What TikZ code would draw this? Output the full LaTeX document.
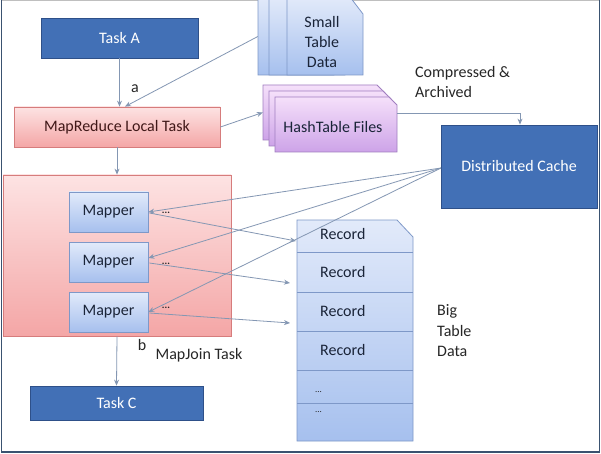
\documentclass[tikz,border=0pt]{standalone}
\usepackage{fontspec}
\setmainfont{Carlito}
\usetikzlibrary{arrows.meta}
\definecolor{taskfill}{HTML}{4270B6}
\definecolor{taskedge}{HTML}{2E5089}
\definecolor{pinktop}{HTML}{FDE3E3}
\definecolor{pinkbot}{HTML}{F4A6A6}
\definecolor{pinkedge}{HTML}{D67C7C}
\definecolor{bluetop}{HTML}{E2EAFA}
\definecolor{bluebot}{HTML}{A6C0EE}
\definecolor{blueedge}{HTML}{7E98C8}
\definecolor{purptop}{HTML}{F5E0FA}
\definecolor{purpbot}{HTML}{CDA3E8}
\definecolor{purpedge}{HTML}{A07EC0}
\definecolor{arrowcol}{HTML}{8497B3}
\definecolor{darktext}{HTML}{1A2438}
\definecolor{redtext}{HTML}{401818}
\definecolor{labeltext}{HTML}{262626}
\definecolor{framecol}{HTML}{3A5270}
\tikzset{
  taskbox/.style={draw=taskedge, fill=taskfill, line width=0.8pt, text=white, inner sep=0pt},
  pinkbox/.style={draw=pinkedge, top color=pinktop, bottom color=pinkbot, line width=0.8pt, inner sep=0pt},
  mapperbox/.style={draw=blueedge, top color=bluetop, bottom color=bluebot, line width=0.8pt, text=darktext,
    minimum width=79pt, minimum height=40pt, inner sep=0pt},
  conn/.style={draw=arrowcol, line width=0.8pt, -{Stealth[length=6pt,width=5pt]}},
  lbl/.style={text=labeltext, inner sep=0pt},
  dots/.style={text=labeltext, font=\fontsize{10}{11}\bfseries\selectfont, inner sep=0pt},
  rdots/.style={text=labeltext, font=\fontsize{9}{10}\selectfont, inner sep=0pt},
  ghost/.style={inner sep=0pt, draw=none}
}
\begin{document}
\begin{tikzpicture}[x=1pt, y=-1pt, font=\fontsize{16}{19}\selectfont]
\useasboundingbox (0,0) rectangle (601,454);
\fill[white] (0,0) rectangle (601,454);
% frame
\draw[black!25, line width=1pt] (1.5,0.8) -- (599.5,0.8);
\draw[framecol, line width=1.6pt] (1.5,0.5) -- (1.5,452) -- (599.5,452) -- (599.5,0.5);

% Small table data (stacked documents)
\foreach \dx in {0,11} {
  \path[draw=blueedge, top color=bluetop, bottom color=bluebot, line width=0.8pt]
    (258+\dx,-3) -- (322+\dx,-3) -- (334+\dx,10) -- (334+\dx,75) -- (258+\dx,75) -- cycle;
}
\path[draw=blueedge, top color=bluetop, bottom color=bluebot, line width=0.8pt]
  (287,-3) -- (350,-3) -- (363,14) -- (363,75) -- (287,75) -- cycle;
\node[ghost, minimum width=105pt, minimum height=78pt] (std) at (310.5,36.5) {};
\node[text=darktext, align=center, font=\fontsize{16}{20}\selectfont, inner sep=0pt] (stdtext) at (322,42) {Small\\Table\\Data};

% HashTable files (stacked)
\foreach \d in {0,6,12} {
  \path[draw=purpedge, top color=purptop, bottom color=purpbot, line width=0.8pt]
    (263+\d,85+\d) -- (377+\d,85+\d) -- (385+\d,93+\d) -- (385+\d,140+\d) -- (263+\d,140+\d) -- cycle;
}
\node[ghost, minimum width=122pt, minimum height=55pt] (hb) at (324,112.5) {};
\node[ghost, minimum width=122pt, minimum height=55pt] (hf) at (336,125.5) {};
\node[text=darktext, inner sep=0pt] (hashtext) at (333,127) {HashTable Files};

% Compressed & Archived
\node[lbl, anchor=west, align=left, font=\fontsize{16}{20}\selectfont] (comp) at (415,82) {Compressed \&\\Archived};

% Distributed cache
\node[taskbox, minimum width=156pt, minimum height=83pt] (cache) at (519,166.5) {Distributed Cache};

% Task A
\node[taskbox, minimum width=157pt, minimum height=40pt] (taskA) at (119.5,38) {Task A};

% MapReduce Local Task
\node[pinkbox, minimum width=206pt, minimum height=40pt, text=redtext] (mrl) at (117,127) {MapReduce Local Task};

% MapJoin Task box
\node[pinkbox, minimum width=228pt, minimum height=161pt] (mj) at (117,255.5) {};

% Mappers
\node[mapperbox] (m1) at (108.5,212) {Mapper};
\node[mapperbox] (m2) at (108.5,262) {Mapper};
\node[mapperbox] (m3) at (108.5,312) {Mapper};
\node[dots] (d1) at (166,213) {...};
\node[dots] (d2) at (166,264) {...};
\node[dots] (d3) at (166,308) {...};

% Task C
\node[taskbox, minimum width=173pt, minimum height=34pt] (taskC) at (116.5,403) {Task C};

% labels
\node[lbl] (la) at (135,89) {a};
\node[lbl] (lb) at (142,345) {b};
\node[lbl] (ljoin) at (199,355) {MapJoin Task};

% Big table
\path[draw=blueedge, top color=bluetop, bottom color=bluebot, line width=0.8pt]
  (297,220) -- (397,220) -- (413,237) -- (413,441) -- (297,441) -- cycle;
\foreach \yy in {252,292,331,370,403} {
  \draw[blueedge, line width=0.8pt] (297,\yy) -- (413,\yy);
}
\node[ghost, minimum width=116pt, minimum height=221pt] (bt) at (355,330.5) {};
\node[text=darktext, anchor=west, inner sep=0pt] (rec1) at (320,234) {Record};
\node[text=darktext, anchor=west, inner sep=0pt] (rec2) at (320,272) {Record};
\node[text=darktext, anchor=west, inner sep=0pt] (rec3) at (320,311) {Record};
\node[text=darktext, anchor=west, inner sep=0pt] (rec4) at (320,350) {Record};
\node[rdots, anchor=west] (rd1) at (315,392) {...};
\node[rdots, anchor=west] (rd2) at (315,412) {...};
\node[lbl, anchor=west, align=left, font=\fontsize{16}{20.5}\selectfont] (bigtd) at (437,331) {Big\\Table\\Data};

% connectors
\coordinate (cw) at (441,168);
\coordinate (r1) at (296,241);
\coordinate (r2) at (290,283);
\coordinate (r3) at (290,323);
\draw[conn] (taskA.south) -- (taskA.south |- mrl.north);
\draw[conn] (std.west) -- ([xshift=8pt]mrl.north);
\draw[conn] (mrl.east) -- (hb.west);
\draw[conn] ([yshift=12.5pt]hf.east) -| ([xshift=1pt]cache.north);
\draw[conn] (mrl.south) -- (mj.north);
\draw[conn] (mj.south) -- (taskC.north);
\draw[conn] (cw) -- (m1.east);
\draw[conn] (cw) -- ([yshift=4pt]m2.east);
\draw[conn] (cw) -- (m3.east);
\draw[conn] ([xshift=1pt,yshift=-1pt]m1.east) -- (r1);
\draw[conn] ([xshift=1pt,yshift=-1pt]m2.east) -- (r2);
\draw[conn] ([xshift=1pt,yshift=-1pt]m3.east) -- (r3);
\end{tikzpicture}
\end{document}
